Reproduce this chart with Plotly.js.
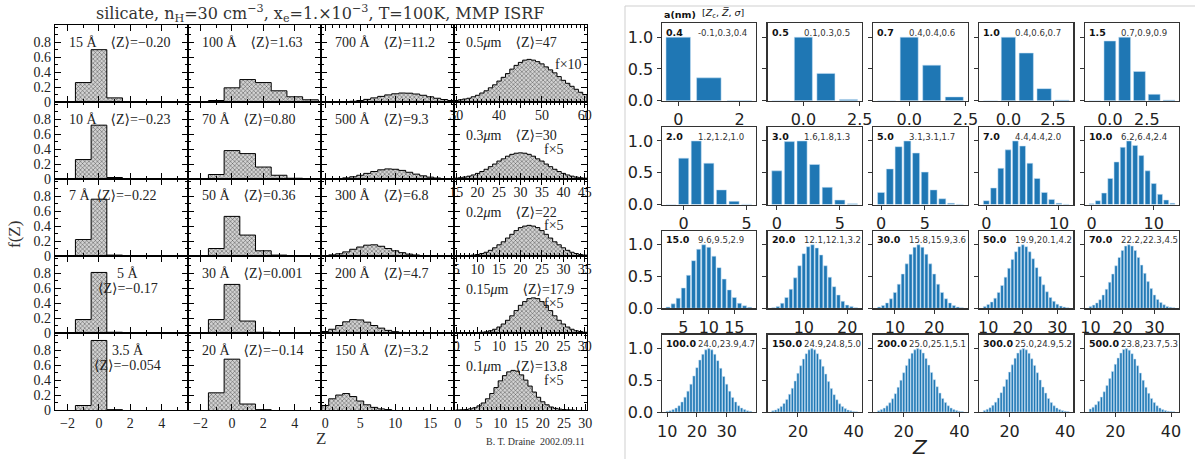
<!DOCTYPE html>
<html><head><meta charset="utf-8">
<script src="https://cdn.plot.ly/plotly-3.0.1.min.js"></script>
<style>html,body{margin:0;padding:0;background:#fff}#chart{width:1195px;height:459px}</style>
</head><body><div id="chart"></div>
<script>
// ================= LEFT FIGURE (Draine) =================
const draineSize = [
  ["15 Å", "100 Å", "700 Å", "0.5<i>μ</i>m"],
  ["10 Å", "70 Å", "500 Å", "0.3<i>μ</i>m"],
  ["7 Å", "50 Å", "300 Å", "0.2<i>μ</i>m"],
  ["5 Å", "30 Å", "200 Å", "0.15<i>μ</i>m"],
  ["3.5 Å", "20 Å", "150 Å", "0.1<i>μ</i>m"]];
const draineMean = [
  ["−0.20", "1.63", "11.2", "47"],
  ["−0.23", "0.80", "9.3", "30"],
  ["−0.22", "0.36", "6.8", "22"],
  ["−0.17", "0.001", "4.7", "17.9"],
  ["−0.054", "−0.14", "3.2", "13.8"]];
const draineFactor = ["f×10", "f×5", "f×5", "f×5", "f×5"];
const draineZ0 = [[-1,-1,1,30],[-1,-1,1,15],[-1,-1,0,5],[-1,-1,0,0],[-1,-1,0,0]];

const f_15A = [0.26,0.70,0.055];
const f_100A = [0.02,0.19,0.30,0.26,0.15,0.07,0.03];
const f_700A = [0.001,0.002,0.005,0.01,0.02,0.035,0.055,0.075,0.095,0.11,0.12,0.118,0.107,0.09,0.07,0.05,0.033,0.02];
const f_0p5um = [0.02,0.03,0.04,0.05,0.07,0.09,0.12,0.15,0.19,0.23,0.28,0.33,0.38,0.44,0.49,0.53,0.56,0.57,0.56,0.54,0.51,0.47,0.43,0.39,0.34,0.29,0.25,0.21,0.17,0.13,0.10];
const f_10A = [0.26,0.72,0.02];
const f_70A = [0.06,0.38,0.34,0.16,0.05,0.01];
const f_500A = [0.003,0.007,0.015,0.03,0.05,0.075,0.10,0.123,0.135,0.13,0.115,0.09,0.065,0.043,0.025,0.013,0.006,0.003];
const f_0p3um = [0.011,0.017,0.026,0.038,0.054,0.075,0.10,0.13,0.165,0.20,0.24,0.27,0.305,0.33,0.345,0.35,0.345,0.33,0.305,0.27,0.24,0.20,0.165,0.13,0.10,0.075,0.054,0.038,0.026,0.017,0.011];
const f_7A = [0.22,0.76,0.012];
const f_50A = [0.10,0.53,0.28,0.07,0.012];
const f_300A = [0.005,0.015,0.03,0.055,0.09,0.12,0.145,0.15,0.13,0.10,0.07,0.045,0.025,0.013,0.006,0.003];
const f_0p2um = [0.002,0.002,0.004,0.007,0.012,0.02,0.033,0.05,0.076,0.11,0.15,0.19,0.24,0.29,0.34,0.38,0.40,0.41,0.40,0.38,0.34,0.29,0.24,0.19,0.15,0.11,0.076,0.05,0.033,0.02,0.012];
const f_5A = [0.18,0.81,0.01];
const f_30A = [0.18,0.65,0.16,0.01];
const f_200A = [0.02,0.05,0.10,0.15,0.18,0.175,0.145,0.10,0.065,0.035,0.018,0.008,0.003];
const f_0p15um = [0,0,0,0,0.002,0.005,0.01,0.015,0.03,0.05,0.08,0.12,0.17,0.23,0.30,0.37,0.42,0.46,0.47,0.46,0.42,0.37,0.30,0.23,0.17,0.12,0.08,0.05,0.03,0.02,0.01];
const f_3p5A = [0.06,0.93,0.005];
const f_20A = [0.23,0.68,0.08,0.005];
const f_150A = [0.06,0.15,0.20,0.22,0.18,0.12,0.07,0.035,0.015,0.006];
const f_0p1um = [0.001,0.003,0.007,0.016,0.03,0.055,0.094,0.15,0.22,0.30,0.39,0.46,0.51,0.53,0.52,0.47,0.40,0.32,0.24,0.17,0.11,0.07,0.04,0.022,0.012,0.006,0.003,0.001];

const draineF = [
  [f_15A, f_100A, f_700A, f_0p5um],
  [f_10A, f_70A, f_500A, f_0p3um],
  [f_7A, f_50A, f_300A, f_0p2um],
  [f_5A, f_30A, f_200A, f_0p15um],
  [f_3p5A, f_20A, f_150A, f_0p1um]];
const draineXRange = [
  [[-2.8,5.67],[-2.8,5.67],[-0.6,18.4],[29.5,60.5]],
  [[-2.8,5.67],[-2.8,5.67],[-0.6,18.4],[14.5,45.5]],
  [[-2.8,5.67],[-2.8,5.67],[-0.6,18.4],[4.5,35.5]],
  [[-2.8,5.67],[-2.8,5.67],[-0.6,18.4],[-0.5,30.5]],
  [[-2.8,5.67],[-2.8,5.67],[-0.6,18.4],[-0.9,30.4]]];
const draineXTick = [[2,2,5,10],[2,2,5,5],[2,2,5,5],[2,2,5,5],[2,2,5,5]];

// ================= RIGHT FIGURE =================
const bondSize = [
  ["0.4","0.5","0.7","1.0","1.5"],
  ["2.0","3.0","5.0","7.0","10.0"],
  ["15.0","20.0","30.0","50.0","70.0"],
  ["100.0","150.0","200.0","300.0","500.0"]];
const bondStats = [
  ["-0.1,0.3,0.4","0.1,0.3,0.5","0.4,0.4,0.6","0.4,0.6,0.7","0.7,0.9,0.9"],
  ["1.2,1.2,1.0","1.6,1.8,1.3","3.1,3.1,1.7","4.4,4.4,2.0","6.2,6.4,2.4"],
  ["9.6,9.5,2.9","12.1,12.1,3.2","15.8,15.9,3.6","19.9,20.1,4.2","22.2,22.3,4.5"],
  ["24.0,23.9,4.7","24.9,24.8,5.0","25.0,25.1,5.1","25.0,24.9,5.2","23.8,23.7,5.3"]];
const bondZ0 = [[0,-1,-1,-1,-1],[-1,0,0,0,0],[2,3,6,9,10],[10,11,11,11,11]];
const bondXTick = [[2,2.5,2.5,2.5,2.5],[5,5,5,10,10],[5,10,10,10,10],[10,20,20,20,20]];

const p_0p4 = [1.0,0.36,0.003];
const p_0p5 = [0,1.0,0.43,0.02];
const p_0p7 = [0,1.0,0.56,0.06];
const p_1p0 = [0,1.0,0.75,0.19,0.01];
const p_1p5 = [0,0.94,1.0,0.46,0.10,0.01];
const p_2p0 = [0,0.73,1.0,0.65,0.23,0.05,0.005];
const p_3p0 = [0.53,0.99,1.0,0.63,0.27,0.07,0.01];
const p_5p0 = [0.19,0.56,0.91,1.0,0.81,0.51,0.23,0.09,0.02,0.004];
const p_7p0 = [0.06,0.26,0.57,0.86,1.0,0.92,0.65,0.41,0.19,0.08,0.02,0.004];
const p_10 = [0.01,0.06,0.18,0.41,0.67,0.90,1.0,0.93,0.77,0.53,0.33,0.16,0.07,0.02];
const p_15 = [0.02,0.07,0.16,0.32,0.52,0.75,0.93,1.0,0.96,0.82,0.64,0.46,0.29,0.17,0.08,0.04,0.015];
const p_20 = [0.01,0.03,0.08,0.17,0.30,0.48,0.67,0.86,0.97,1.0,0.95,0.84,0.67,0.49,0.34,0.21,0.11,0.05,0.03,0.01];
const p_30 = [0.021,0.044,0.085,0.15,0.25,0.38,0.54,0.70,0.85,0.96,1.0,0.96,0.85,0.70,0.54,0.38,0.25,0.15,0.085,0.044,0.021,0.009];
const p_50 = [0.03,0.06,0.10,0.16,0.25,0.36,0.49,0.63,0.77,0.89,0.97,1.0,0.97,0.89,0.78,0.64,0.50,0.37,0.26,0.17,0.11,0.065,0.035,0.02,0.01];
const p_70 = [0.03,0.05,0.085,0.135,0.21,0.30,0.41,0.54,0.67,0.80,0.91,0.98,1.0,0.98,0.91,0.80,0.68,0.55,0.42,0.31,0.21,0.14,0.09,0.055,0.03,0.016,0.008];
const p_100 = [0.012,0.022,0.04,0.065,0.10,0.16,0.235,0.33,0.44,0.57,0.70,0.82,0.91,0.98,1.0,0.98,0.91,0.81,0.69,0.56,0.44,0.33,0.23,0.16,0.10,0.065,0.04,0.022,0.012];
const p_150 = [0.02,0.034,0.056,0.09,0.135,0.20,0.28,0.375,0.49,0.61,0.73,0.835,0.92,0.98,1.0,0.98,0.92,0.83,0.72,0.60,0.48,0.37,0.275,0.195,0.13,0.087,0.055,0.033,0.02,0.011,0.006];
const p_200 = [0.023,0.039,0.063,0.098,0.146,0.21,0.29,0.39,0.50,0.62,0.735,0.84,0.926,0.98,1.0,0.985,0.93,0.845,0.74,0.625,0.51,0.40,0.30,0.215,0.15,0.10,0.065,0.04,0.024,0.014,0.008];
const p_300 = [0.027,0.044,0.07,0.106,0.157,0.223,0.306,0.404,0.514,0.63,0.744,0.846,0.929,0.98,1.0,0.98,0.925,0.84,0.735,0.62,0.505,0.395,0.30,0.215,0.15,0.10,0.066,0.042,0.025,0.015,0.008];
const p_500 = [0.05,0.077,0.116,0.17,0.236,0.32,0.418,0.527,0.641,0.752,0.852,0.93,0.985,1.0,0.975,0.92,0.835,0.73,0.615,0.50,0.39,0.295,0.215,0.15,0.10,0.065,0.04,0.024,0.014,0.008,0.004];

const bondF = [
  [p_0p4, p_0p5, p_0p7, p_1p0, p_1p5],
  [p_2p0, p_3p0, p_5p0, p_7p0, p_10],
  [p_15, p_20, p_30, p_50, p_70],
  [p_100, p_150, p_200, p_300, p_500]];

// ================= BUILD =================
const W = 1195, H = 459;
const px = x => x / W, py = y => 1 - y / H;
const traces = [];
const layout = {
  width: W, height: H, margin: {l:0, r:0, t:0, b:0},
  paper_bgcolor: '#fff', plot_bgcolor: 'rgba(0,0,0,0)',
  showlegend: false, barmode: 'overlay', bargap: 0,
  annotations: [], shapes: []
};
const sfx = n => (n === 1 ? '' : String(n));
const serif = 'Liberation Serif, DejaVu Serif, serif';
const sans = 'DejaVu Sans, sans-serif';
const note = (x, y, t, font, xa, extra) => layout.annotations.push(Object.assign({
  xref: 'paper', yref: 'paper', x: px(x), y: py(y), text: t, showarrow: false,
  xanchor: xa || 'center', yanchor: 'middle', font: font}, extra || {}));

// Left grid
const LX0 = 55, LW = 133, LY0 = 25, LH = 77;
const leftFont = {family: serif, size: 14, color: '#222'};
for (let r = 0; r < 5; r++) {
  for (let c = 0; c < 4; c++) {
    const n = r * 4 + c + 1, s = sfx(n);
    const x0 = LX0 + LW * c, top = LY0 + LH * r;
    const showX = (c === 3) || (r === 4);
    layout['xaxis' + s] = {
      domain: [px(x0), px(x0 + LW)], anchor: 'y' + s, range: draineXRange[r][c],
      dtick: draineXTick[r][c], tick0: 0, ticks: 'inside', ticklen: 6, tickcolor: '#000',
      minor: {ticks: 'inside', dtick: 1, ticklen: 3, tickcolor: '#000'},
      showline: true, linecolor: '#000', linewidth: 1.2, mirror: 'allticks',
      showgrid: false, zeroline: false, showticklabels: showX,
      tickfont: leftFont
    };
    layout['yaxis' + s] = {
      domain: [py(top + LH), py(top)], anchor: 'x' + s, range: [0, 1.03],
      tickmode: 'array', tickvals: [0,0.2,0.4,0.6,0.8], ticktext: ['0','0.2','0.4','0.6','0.8'],
      ticks: 'inside', ticklen: 6, tickcolor: '#000',
      minor: {ticks: 'inside', tickvals: [0.1,0.3,0.5,0.7,0.9,1.0], ticklen: 3, tickcolor: '#000'},
      showline: true, linecolor: '#000', linewidth: 1.2, mirror: 'allticks',
      showgrid: false, zeroline: false, showticklabels: c === 0,
      tickfont: leftFont
    };
    const z0 = draineZ0[r][c], v = draineF[r][c];
    traces.push({
      type: 'bar', x0: z0, dx: 1, y: v, width: 1, xaxis: 'x' + s, yaxis: 'y' + s,
      marker: {color: '#a8a8a8', line: {width: 0},
               pattern: {shape: 'x', fgcolor: '#444', bgcolor: '#d2d2d2', size: 3, solidity: 0.28}},
      hoverinfo: 'skip'
    });
    // step outline from the same values
    const xs = [z0 - 0.5], ys = [0];
    v.forEach((val, i) => { xs.push(z0 + i - 0.5); ys.push(val); });
    xs.push(z0 + v.length - 0.5); ys.push(v[v.length - 1]);
    xs.push(z0 + v.length - 0.5); ys.push(0);
    traces.push({type: 'scatter', mode: 'lines', x: xs, y: ys, xaxis: 'x' + s, yaxis: 'y' + s,
      line: {color: '#000', width: 1, shape: 'hv'}, hoverinfo: 'skip'});

    const lvl = f => top + LH - f * 75;
    const mz = '⟨Z⟩=' + draineMean[r][c];
    if (c === 3) {
      note(x0 + 10, lvl(r === 0 ? 0.8 : 0.58), draineSize[r][c] + '\u2002\u2002' + mz, leftFont, 'left');
      note(x0 + (r === 0 ? 114 : 100), lvl(r === 0 ? 0.5 : 0.4), draineFactor[r], leftFont, 'center');
    } else if (c === 0 && r >= 3) {
      note(x0 + 73, lvl(0.8), draineSize[r][c], leftFont, 'center');
      note(x0 + 73, lvl(0.6), mz, leftFont, 'center');
    } else {
      note(x0 + 12, lvl(0.8), draineSize[r][c] + (c === 0 && r === 2 ? '\u2002' : '\u2002\u2002') + mz, leftFont, 'left');
    }
  }
}
note(320, 14, 'silicate, n<sub>H</sub>=30 cm<sup>−3</sup>, x<sub>e</sub>=1.×10<sup>−3</sup>, T=100K, MMP ISRF',
  {family: 'DejaVu Serif, serif', size: 16, color: '#333'});
note(14, 235, 'f(Z)', {family: serif, size: 17, color: '#333'}, 'center', {textangle: -90});
note(321, 438, 'Z', {family: serif, size: 17, color: '#333'});
note(587, 441, 'B. T. Draine  2002.09.11', {family: serif, size: 10, color: '#333'}, 'right');

// Right grid
const RX0 = 661.7, RPX = 105.8, RW = 94.3, RB = [100.7, 204.5, 308.3, 412.1], RH = 77.5;
const rightTick = {family: sans, size: 16, color: '#222'};
for (let r = 0; r < 4; r++) {
  for (let c = 0; c < 5; c++) {
    const n = 21 + r * 5 + c, s = sfx(n);
    const x0 = RX0 + RPX * c, bot = RB[r], top = bot - RH;
    const z0 = bondZ0[r][c], v = bondF[r][c];
    const lo = z0 - 0.4, hi = z0 + v.length - 1 + 0.4, m = 0.05 * (hi - lo);
    const dt = bondXTick[r][c];
    layout['xaxis' + s] = {
      domain: [px(x0), px(x0 + RW)], anchor: 'y' + s, range: [lo - m, hi + m],
      dtick: dt, tick0: 0, tickformat: (dt === 2.5 ? '.1f' : 'd'),
      ticks: 'outside', ticklen: 4, tickwidth: 1, tickcolor: '#333',
      showline: true, linecolor: '#333', linewidth: 1.2, mirror: true,
      showgrid: false, zeroline: false, tickfont: rightTick
    };
    layout['yaxis' + s] = {
      domain: [py(bot), py(top)], anchor: 'x' + s, range: [0, 1.22],
      tickmode: 'array', tickvals: [0, 0.5, 1.0], ticktext: ['0.0','0.5','1.0'],
      ticks: 'outside', ticklen: 4, tickwidth: 1, tickcolor: '#333',
      showline: true, linecolor: '#333', linewidth: 1.2, mirror: true,
      showgrid: false, zeroline: false, showticklabels: c === 0, tickfont: rightTick
    };
    traces.push({
      type: 'bar', x0: z0, dx: 1, y: v, width: 0.8, xaxis: 'x' + s, yaxis: 'y' + s,
      marker: {color: '#1f77b4', line: {width: 0.6, color: 'rgba(200,225,245,0.9)'}}, hoverinfo: 'skip'
    });
    note(x0 + 2, top + 9, '<b>' + bondSize[r][c] + '</b>', {family: sans, size: 9.5, color: '#111'}, 'left');
    note(x0 + 34, top + 9, bondStats[r][c],
      {family: 'DejaVu Sans Condensed, Liberation Sans Narrow, DejaVu Sans', size: 9.5, color: '#333'}, 'left');
  }
}
note(662, 15, '<b>a(nm)</b>', {family: sans, size: 9.5, color: '#111'}, 'left');
note(700, 14, '[<i>Z</i><sub>c</sub>, <i>Z̅</i>, <i>σ</i>]', {family: sans, size: 9.5, color: '#111'}, 'left');
note(920, 447, '<i>Z</i>', {family: sans, size: 20, color: '#222'});
layout.shapes.push({type:'line', xref:'paper', yref:'paper', x0: px(625), x1: 1, y0: py(6), y1: py(6),
  line: {color:'#cfcfcf', width: 1}});
layout.shapes.push({type:'line', xref:'paper', yref:'paper', x0: px(625), x1: px(625), y0: py(6), y1: 0,
  line: {color:'#cfcfcf', width: 1}});

Plotly.newPlot('chart', traces, layout, {displayModeBar: false, staticPlot: true});
</script></body></html>
